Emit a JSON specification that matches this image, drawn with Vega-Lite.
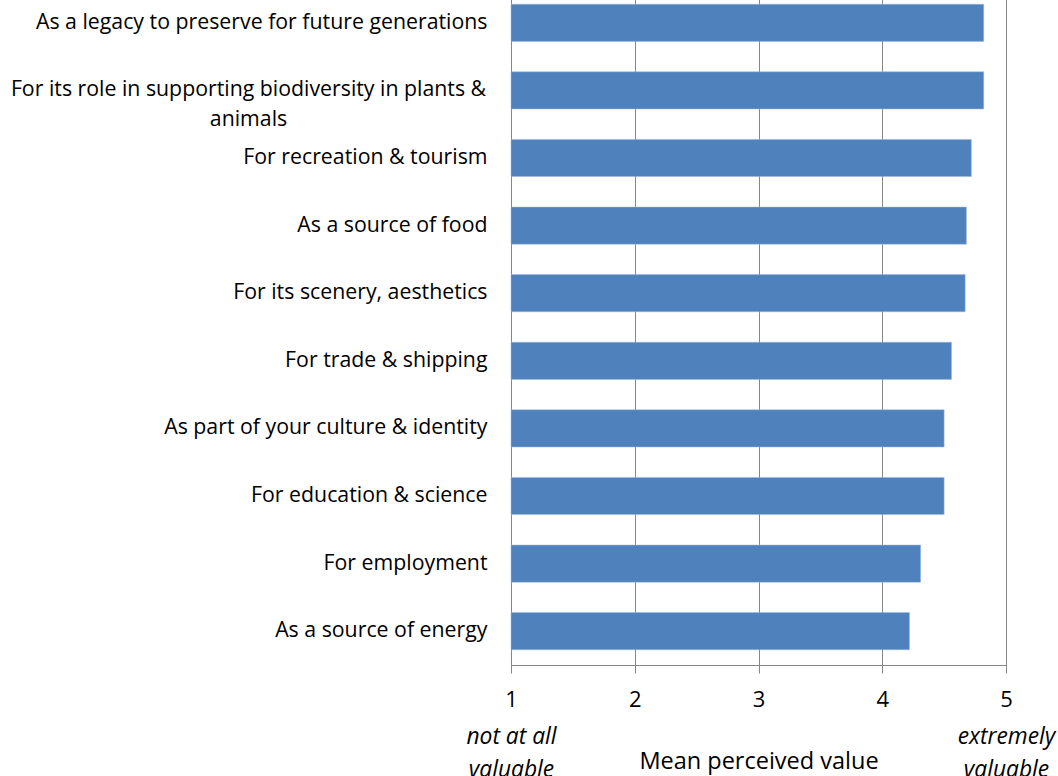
{
  "$schema": "https://vega.github.io/schema/vega-lite/v6.json",
  "width": 495,
  "height": 676,
  "autosize": {"type": "none"},
  "padding": {"left": 511, "top": -11, "right": 52, "bottom": 111},
  "background": "white",
  "config": {"view": {"stroke": null}, "font": "Open Sans"},
  "data": {
    "values": [
      {"label": "As a legacy to preserve for future generations", "value": 4.82},
      {"label": "For its role in supporting biodiversity in plants & animals", "value": 4.82},
      {"label": "For recreation & tourism", "value": 4.72},
      {"label": "As a source of food", "value": 4.68},
      {"label": "For its scenery, aesthetics", "value": 4.67},
      {"label": "For trade & shipping", "value": 4.56},
      {"label": "As part of your culture & identity", "value": 4.5},
      {"label": "For education & science", "value": 4.5},
      {"label": "For employment", "value": 4.31},
      {"label": "As a source of energy", "value": 4.22}
    ]
  },
  "layer": [
    {
      "mark": {"type": "bar", "color": "#4F81BD", "stroke": "#9DB9DD", "strokeWidth": 0.5},
      "encoding": {
        "y": {
          "field": "label",
          "type": "nominal",
          "sort": null,
          "scale": {"paddingInner": 0.45, "paddingOuter": 0.225},
          "axis": {
            "title": null,
            "domain": false,
            "ticks": false,
            "labelFont": "Open Sans",
            "labelFontSize": 21.3,
            "labelColor": "#000000",
            "labelLimit": 600,
            "labelLineHeight": 30,
            "labelAlign": {"condition": {"test": "indexof(datum.value, 'biodiversity') >= 0", "value": "center"}, "value": "right"},
            "labelPadding": {"condition": {"test": "indexof(datum.value, 'biodiversity') >= 0", "value": 263}, "value": 24},
            "labelExpr": "indexof(datum.value, 'biodiversity') >= 0 ? ['For its role in supporting biodiversity in plants &', 'animals'] : datum.value"
          }
        },
        "x": {
          "field": "value",
          "type": "quantitative",
          "scale": {"domain": [1, 5], "nice": false, "zero": false},
          "axis": {
            "values": [1, 2, 3, 4, 5],
            "format": "d",
            "grid": true,
            "gridColor": "#868686",
            "domainColor": "#868686",
            "tickColor": "#868686",
            "tickSize": 8,
            "labelFlush": false,
            "labelFont": "Open Sans",
            "labelFontSize": 22,
            "labelColor": "#000000",
            "labelPadding": 16,
            "title": "Mean perceived value",
            "titleFont": "Open Sans",
            "titleFontSize": 23.5,
            "titleFontWeight": "normal",
            "titleColor": "#000000",
            "titlePadding": 39
          }
        },
        "x2": {"datum": 1}
      }
    },
    {
      "mark": {"type": "point", "opacity": 0},
      "encoding": {
        "x": {
          "field": "value",
          "type": "quantitative",
          "scale": {"domain": [1, 5], "nice": false, "zero": false},
          "axis": {
            "orient": "bottom",
            "values": [1, 5],
            "grid": false,
            "domain": false,
            "ticks": false,
            "title": null,
            "labelFont": "Open Sans",
            "labelFontSize": 22.8,
            "labelFontStyle": "italic",
            "labelColor": "#000000",
            "labelLineHeight": 33,
            "labelPadding": 60,
            "labelFlush": false,
            "labelOverlap": false,
            "labelExpr": "datum.value == 1 ? ['not at all', 'valuable'] : ['extremely', 'valuable']"
          }
        }
      }
    }
  ],
  "resolve": {"axis": {"x": "independent"}}
}
